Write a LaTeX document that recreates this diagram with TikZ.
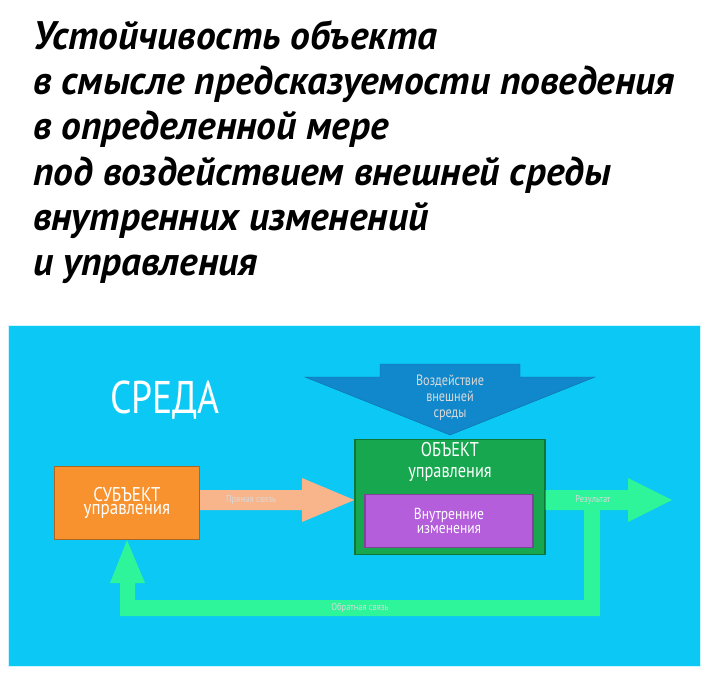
\documentclass[tikz,border=0pt]{standalone}
\usepackage{fontspec}
\setmainfont{PT Sans}
\usetikzlibrary{positioning}
\definecolor{sky}{HTML}{0BC8F5}
\definecolor{deep}{HTML}{1188CC}
\definecolor{subj}{HTML}{F7922F}
\definecolor{obj}{HTML}{17A84F}
\definecolor{inner}{HTML}{B45EDB}
\definecolor{peach}{HTML}{F8B48A}
\definecolor{mint}{HTML}{2EF59A}
\tikzset{
  box/.style={draw=#1!70!black, fill=#1, line width=1.2pt, align=center, text=white},
  tag/.style={text=white!85!black, font=\fontsize{10}{11}\selectfont, xscale=0.85},
  headline/.style={anchor=base west, font=\fontsize{40}{40}\selectfont\bfseries\itshape}
}
\begin{document}
\begin{tikzpicture}[x=1bp, y=-1bp]
\useasboundingbox (0,0) rectangle (708,674);

\foreach \l [count=\i from 0] in {Устойчивость объекта,
    в смысле предсказуемости поведения, в определенной мере,
    под воздействием внешней среды, внутренних изменений, и управления}
  \node [headline, xscale=0.99, inner sep=0pt] (head-\i) at (33,50+\i*45) {\l};

\draw [draw=white!80!sky, line width=1pt, fill=sky] (8,325) rectangle (700,666);
\node [text=white, font=\fontsize{46}{46}\selectfont, xscale=0.82] (env) at (165,400) {СРЕДА};

\draw [fill=deep, draw=deep!80!black] (305,377) -- (380,377) -- (380,364) -- (520,364) -- (520,377)
  -- (595,377) -- (450,435) -- cycle;
\node [text=white!85!black, font=\fontsize{15}{16}\selectfont, align=center, xscale=0.82] (impact)
  at (450,398) {Воздействие\\внешней\\среды};

\node [box=obj, minimum width=190bp, minimum height=115bp] (object) at (450,497) {};
\node [font=\fontsize{20}{21}\selectfont, text=white, align=center, xscale=0.82, below=0bp of object.north]
  (object-label) {ОБЪЕКТ\\управления};
\node [box=inner, minimum width=168bp, minimum height=53bp, font=\fontsize{16}{17}\selectfont] (changes)
  at (449,521) {\scalebox{0.85}[1]{\shortstack{Внутренние\\изменения}}};

\node [box=subj, minimum width=145bp, minimum height=73bp, font=\fontsize{20}{21}\selectfont] (subject)
  at (127,503) {\scalebox{0.85}[1]{\shortstack{СУБЪЕКТ\\управления}}};

% connectors
\coordinate (fwd-end) at (object.west |- 0,500);
\fill [peach] (subject.east |- 0,490) -- (302,490) -- (302,478) -- (fwd-end) -- (302,522) -- (302,510)
  -- (subject.east |- 0,510) -- cycle;
\node [tag] (fwd) at (251,500) {Прямая связь};

\coordinate (res-end) at (672,500);
\fill [mint] (object.east |- 0,490) -- (628,490) -- (628,478) -- (res-end) -- (628,522) -- (628,510)
  -- (600,510) -- (600,616) -- (120,616) -- (120,583) -- (110,583) -- (subject.south) -- (145,583)
  -- (135,583) -- (135,600) -- (584,600) -- (584,510) -- (object.east |- 0,510) -- cycle;
\node [tag] (result) at (593,500) {Результат};
\node [tag] (back) at (360,608) {Обратная связь};

\end{tikzpicture}
\end{document}
